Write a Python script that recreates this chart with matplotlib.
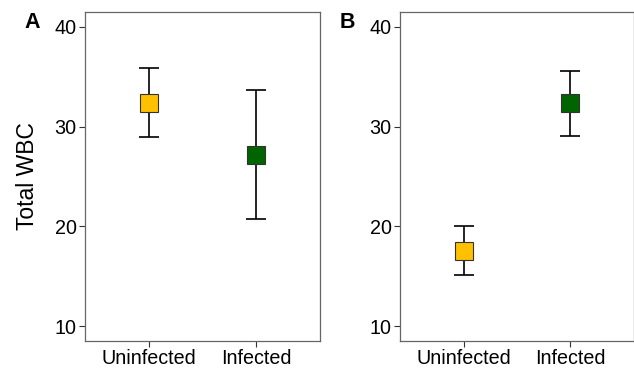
import matplotlib
matplotlib.use("Agg")
import matplotlib.pyplot as plt

plt.rcParams['font.family'] = ['Liberation Sans', 'DejaVu Sans']

groups = ["Uninfected", "Infected"]
colors = ["#FFC000", "#006400"]

# panel A
a_mean = [32.4, 27.2]
a_low = [29.0, 20.7]
a_high = [35.9, 33.7]

# panel B
b_mean = [17.5, 32.4]
b_low = [15.1, 29.1]
b_high = [20.0, 35.6]

yticks = [10, 20, 30, 40]

fig = plt.figure(figsize=(6.34, 3.69), dpi=100)
axA = fig.add_axes([85/634, 28/369, 235/634, 329/369])
axB = fig.add_axes([400/634, 28/369, 234/634, 329/369])


def panel(ax, mean, low, high, ylabel=None):
    x = list(range(1, len(groups) + 1))
    for xi, m, lo, hi, c in zip(x, mean, low, high, colors):
        ax.errorbar([xi], [m], yerr=[[m - lo], [hi - m]], fmt='none',
                    ecolor='black', elinewidth=1.2, capsize=7.5, capthick=1.2, zorder=2)
        ax.plot([xi], [m], marker='s', markersize=12.5, markerfacecolor=c,
                markeredgecolor='#333333', markeredgewidth=0.8, linestyle='none', zorder=3)
    ax.set_xlim(0.4, 2.6)
    ax.set_ylim(8.5, 41.5)
    ax.set_xticks(x)
    ax.set_xticklabels(groups)
    ax.set_yticks(yticks)
    ax.tick_params(labelsize=14.2, colors='#333333', length=4, width=0.8, pad=2)
    ax.tick_params(axis='both', labelcolor='black')
    for s in ax.spines.values():
        s.set_color('#666666')
        s.set_linewidth(0.9)
    if ylabel:
        ax.set_ylabel(ylabel, fontsize=16.5, labelpad=11)
    return ax


panel(axA, a_mean, a_low, a_high, "Total WBC")
panel(axB, b_mean, b_low, b_high)

fig.text(32/634, 1 - 22/369, "A", fontsize=15.5, fontweight='bold', ha='center', va='center')
fig.text(347/634, 1 - 22/369, "B", fontsize=15.5, fontweight='bold', ha='center', va='center')

fig.savefig("out.png", dpi=100)
